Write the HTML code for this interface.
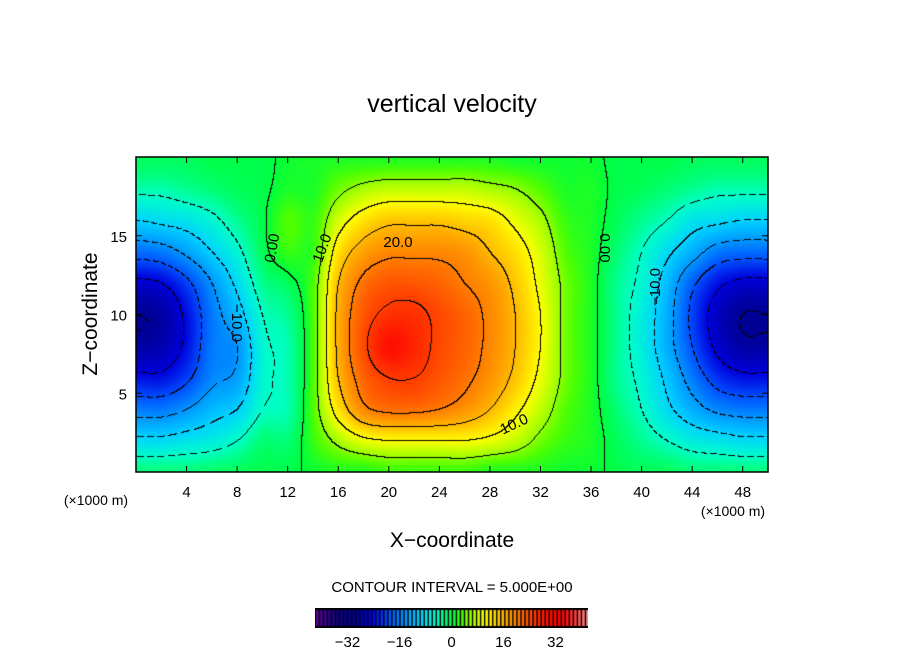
<!DOCTYPE html>
<html><head><meta charset="utf-8">
<style>
body{margin:0;background:#fff;width:904px;height:654px;overflow:hidden;position:relative;font-family:"Liberation Sans",sans-serif}
canvas{position:absolute}
svg{position:absolute;left:0;top:0}
</style></head><body>
<canvas id="plot" width="632" height="315" style="left:136px;top:157px"></canvas>
<canvas id="cbar" width="273" height="20" style="left:315px;top:608px"></canvas>
<svg id="ov" width="904" height="654"></svg>
<script>
const xs=[0,2,4,6,8,10,12,14,16,18,20,22,24,26,28,30,32,34,36,38,40,42,44,46,48,50];
const zs=[0,2,4,6,8,10,12,14,16,18,20];
const w0=[-2,-2,-2,-1.5,-1,-0.5,-0.5,0.5,1,1,2,2,2,2,1,1,1,0.5,0.5,-0.5,-1,-1,-2,-2,-2,-2];
const w2=[-9,-9,-8,-7,-5,-2,-2,2,6,9,10,10,10,10,9,7,4,2,1,-1,-3,-5,-7,-8,-9,-9];
const w4=[-17,-17,-15,-12,-10,-5,-4,3,12,19,21,21,20,18,15,11,7,3,1,-2,-5,-9,-13,-16,-17,-17];
const w6=[-24,-24,-21,-16,-14,-6,-4,3,15,22,25,25,23,21,18,14,9,4,1,-3,-6,-11,-17,-22,-24,-24];
const w8=[-29,-28,-24,-17,-15,-6,-4,3,16,24,29,27,24,22,19,15,10,4,1,-3,-7,-13,-20,-26,-29,-29];
const w10=[-30,-29,-24,-17,-12,-5,-3,3,16,23,26,26,24,22,19,15,10,4,1,-3,-7,-13,-21,-27,-30,-30];
const w12=[-26,-25,-21,-15,-9,-3,-1,3,15,21,23,23,22,20,18,14,9,4,1,-3,-6,-12,-19,-24,-26,-26];
const w14=[-18,-17,-14,-10,-6,-1,2,2,12,17,19,19,19,18,15,12,8,3,1,-2,-5,-9,-13,-17,-18,-18];
const w16=[-10,-9,-8,-6,-3,-0.5,3,2,8,12,14,14,14,13,12,9,6,2,1,-1,-3,-5,-8,-9,-10,-10];
const w18=[-4,-4,-3,-2,-1,-0.5,1,1,4,6,7,7,7,7,6,5,3,1,1,-0.5,-1,-2,-3,-4,-4,-4];
const w20=[-1,-1,-1,-0.5,-0.5,-0.5,0.5,1,1,1,1,1,1,1,1,0.5,0.5,0.5,0.5,-0.5,-0.5,-0.5,-1,-1,-1,-1];
const rows=[w0,w2,w4,w6,w8,w10,w12,w14,w16,w18,w20];
const xTicks=[4,8,12,16,20,24,28,32,36,40,44,48];
const zTicks=[5,10,15];
const cbTicks=[-32,-16,0,16,32];
const PL=136,PT=157,PW=632,PH=315,XMAX=50,ZMAX=20;
const sx=x=>PL+x/XMAX*PW, sz=z=>PT+PH-z/ZMAX*PH;
const stops=[[-42,[90,0,150]],[-36,[20,0,140]],[-30,[0,0,150]],[-25,[0,0,220]],[-20,[0,80,255]],[-15,[0,150,255]],[-10,[0,210,255]],[-5,[0,255,200]],[0,[0,255,60]],[3,[80,255,0]],[6,[170,255,0]],[10,[255,255,0]],[15,[255,185,0]],[20,[255,125,0]],[25,[255,60,0]],[29,[255,15,0]],[34,[255,0,0]],[39,[255,80,80]],[42,[255,150,150]]];
function cmap(v){v=Math.max(-42,Math.min(42,v));for(let i=1;i<stops.length;i++){if(v<=stops[i][0]){const a=stops[i-1],b=stops[i],t=(v-a[0])/(b[0]-a[0]);return a[1].map((c,k)=>Math.round(c+(b[1][k]-c)*t));}}return stops[stops.length-1][1];}
function cr(p0,p1,p2,p3,t){return 0.5*((2*p1)+(-p0+p2)*t+(2*p0-5*p1+4*p2-p3)*t*t+(-p0+3*p1-3*p2+p3)*t*t*t);}
function g(j,i){j=Math.max(0,Math.min(zs.length-1,j));i=Math.max(0,Math.min(xs.length-1,i));return rows[j][i];}
function field(x,z){const dx=xs[1]-xs[0],dz=zs[1]-zs[0];let i=Math.min(xs.length-2,Math.floor(x/dx)),j=Math.min(zs.length-2,Math.floor(z/dz));const tx=(x-xs[i])/dx,tz=(z-zs[j])/dz;const r=[];for(let k=-1;k<=2;k++)r.push(cr(g(j+k,i-1),g(j+k,i),g(j+k,i+1),g(j+k,i+2),tx));return cr(r[0],r[1],r[2],r[3],tz);}
const cv=document.getElementById('plot'),ctx=cv.getContext('2d');const img=ctx.createImageData(PW,PH);
const V=[];for(let py=0;py<PH;py++){V.push([]);for(let px=0;px<PW;px++){V[py].push(field(px/PW*XMAX,(PH-py)/PH*ZMAX));}}
const B=v=>Math.floor(v/5);
for(let py=0;py<PH;py++)for(let px=0;px<PW;px++){const v=V[py][px];let c=cmap(v);
const L=B(v);let edge=false,lv=0;
const nb=[[px+1,py],[px,py+1]];
for(const [qx,qy] of nb){if(qx<PW&&qy<PH&&B(V[qy][qx])!==L){edge=true;lv=Math.max(L,B(V[qy][qx]))*5;}}
if(!edge){for(const [qx,qy] of [[px+1,py],[px,py+1],[px+1,py+1]]){if(qx<PW&&qy<PH){const L2=B(V[qy][qx]);if(L2!==L){const l=Math.max(L,L2)*5;if(l%10===0){edge=true;lv=l;}}}}}
if(edge){if(lv<0&&((px+py)%10>6)){}else c=[0,0,0];}
const o=(py*PW+px)*4;img.data[o]=c[0];img.data[o+1]=c[1];img.data[o+2]=c[2];img.data[o+3]=255;}
ctx.putImageData(img,0,0);
const cb=document.getElementById('cbar').getContext('2d');cb.fillStyle='#000';cb.fillRect(0,0,273,20);
for(let v=-42;v<42;v+=1.25){const x0=(v+42)/84*271+1;const c=cmap(v);cb.fillStyle=`rgb(${c})`;cb.fillRect(x0,2,2.6,16);}
const ov=document.getElementById('ov');const NS='http://www.w3.org/2000/svg';
function el(t,a,txt){const e=document.createElementNS(NS,t);for(const k in a)e.setAttribute(k,a[k]);if(txt!==undefined)e.textContent=txt;ov.appendChild(e);return e;}
let e;
e=el('rect',{x:PL,y:PT,width:PW,height:PH,fill:'none',stroke:'#000','stroke-width':1.5});


e=el('text',{x:452,y:112,'font-size':25,'text-anchor':'middle'},'vertical velocity');


xTicks.forEach(t=>{e=el('text',{x:sx(t),y:497,'font-size':15,'text-anchor':'middle'},t);


el('line',{x1:sx(t),x2:sx(t),y1:PT+PH,y2:PT+PH-6,stroke:'#000'});el('line',{x1:sx(t),x2:sx(t),y1:PT,y2:PT+6,stroke:'#000'});});
zTicks.forEach(t=>{e=el('text',{x:127,y:sz(t)+6,'font-size':15,'text-anchor':'end'},t);


el('line',{x1:PL,x2:PL+6,y1:sz(t),y2:sz(t),stroke:'#000'});el('line',{x1:PL+PW,x2:PL+PW-6,y1:sz(t),y2:sz(t),stroke:'#000'});});
e=el('text',{x:96,y:505,'font-size':14,'text-anchor':'middle'},'(×1000 m)');


e=el('text',{x:733,y:516,'font-size':14,'text-anchor':'middle'},'(×1000 m)');


e=el('text',{x:452,y:547,'font-size':21,'text-anchor':'middle'},'X−coordinate');


e=el('text',{x:97,y:314,'font-size':21,'text-anchor':'middle',transform:'rotate(-90 97 314)'},'Z−coordinate');


e=el('text',{x:452,y:592,'font-size':15,'text-anchor':'middle'},'CONTOUR INTERVAL = 5.000E+00');


cbTicks.forEach(t=>{e=el('text',{x:315+(t+42)/84*273,y:647,'font-size':15,'text-anchor':'middle'},t<0?'−'+(-t):t);

});
const labs=[['0.00',272,248,-80],['10.0',322,248,-70],['20.0',398,242,0],['10.0',514,424,-25],['0.00',605,248,90],['−10.0',655,287,-90],['−10.0',237,323,90]];
labs.forEach(l=>{e=el('text',{x:l[1],y:l[2]+5,'font-size':15,'text-anchor':'middle',transform:`rotate(${l[3]} ${l[1]} ${l[2]})`},l[0]);

});
</script>
</body></html>
